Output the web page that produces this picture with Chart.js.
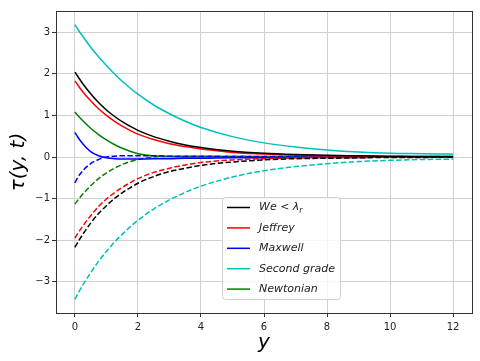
<!DOCTYPE html>
<html>
<head>
<meta charset="utf-8">
<script src="https://cdn.jsdelivr.net/npm/chart.js@4"></script>
<style>
  body { margin: 0; background: #fff; }
  canvas { display: block; }
</style>
</head>
<body>
<canvas id="myChart" width="480" height="361"></canvas>
<script>
const yValues = [0, 0.1, 0.25, 0.5, 0.75, 1, 1.25, 1.5, 1.75, 2, 2.5, 3, 3.5, 4, 5, 6, 7, 8, 9, 10, 11, 12]

// solid curves (upper branch)
const weSolid       = [2.04, 1.93, 1.76, 1.52, 1.31, 1.13, 0.98, 0.85, 0.74, 0.64, 0.49, 0.38, 0.29, 0.23, 0.14, 0.09, 0.06, 0.04, 0.03, 0.02, 0.01, 0.01]
const jeffreySolid  = [1.83, 1.72, 1.57, 1.35, 1.16, 1.00, 0.86, 0.74, 0.64, 0.55, 0.42, 0.32, 0.25, 0.19, 0.11, 0.07, 0.04, 0.03, 0.02, 0.01, 0.01, 0.01]
const maxwellSolid  = [0.59, 0.47, 0.32, 0.13, 0.03, -0.02, -0.04, -0.05, -0.05, -0.05, -0.04, -0.04, -0.03, -0.03, -0.02, -0.02, -0.01, -0.01, -0.01, 0, 0, 0]
const secondSolid   = [3.18, 3.06, 2.90, 2.64, 2.41, 2.20, 2.00, 1.82, 1.66, 1.51, 1.25, 1.04, 0.86, 0.71, 0.49, 0.34, 0.24, 0.17, 0.12, 0.09, 0.08, 0.07]
const newtonSolid   = [1.08, 0.99, 0.87, 0.69, 0.54, 0.41, 0.30, 0.21, 0.14, 0.08, 0.03, 0.01, 0, 0, 0, 0, 0, 0, 0, 0, 0, 0]

// dashed curves (lower branch)
const weDashed      = [-2.17, -2.04, -1.86, -1.59, -1.36, -1.17, -1.00, -0.86, -0.74, -0.63, -0.47, -0.35, -0.27, -0.20, -0.12, -0.07, -0.04, -0.03, -0.02, -0.01, -0.01, 0]
const jeffreyDashed = [-1.95, -1.83, -1.66, -1.41, -1.19, -1.01, -0.86, -0.73, -0.62, -0.52, -0.37, -0.27, -0.19, -0.13, -0.07, -0.04, -0.02, -0.01, -0.01, 0, 0, 0]
const maxwellDashed = [-0.62, -0.48, -0.33, -0.16, -0.06, 0, 0.02, 0.03, 0.03, 0.03, 0.03, 0.02, 0.02, 0.02, 0.01, 0.01, 0.01, 0.01, 0, 0, 0, 0]
const secondDashed  = [-3.42, -3.28, -3.08, -2.78, -2.51, -2.27, -2.05, -1.86, -1.68, -1.52, -1.25, -1.03, -0.85, -0.70, -0.48, -0.33, -0.23, -0.16, -0.11, -0.08, -0.06, -0.05]
const newtonDashed  = [-1.13, -1.03, -0.89, -0.69, -0.52, -0.38, -0.27, -0.18, -0.11, -0.06, 0, 0.02, 0.02, 0.02, 0.02, 0.01, 0.01, 0.01, 0.01, 0, 0, 0]

const xTicks = [0, 2, 4, 6, 8, 10, 12]
const yTicks = [-3, -2, -1, 0, 1, 2, 3]

const legendNames = ['We', 'Jeffrey', 'Maxwell', 'Second grade', 'Newtonian']
const colors = ['#000000', '#ff0000', '#0000ff', '#00bfbf', '#008000']

const solids = [weSolid, jeffreySolid, maxwellSolid, secondSolid, newtonSolid]
const dashes = [weDashed, jeffreyDashed, maxwellDashed, secondDashed, newtonDashed]

const toPoints = vals => vals.map((v, i) => ({x: yValues[i], y: v}))

let datasets = []
for (let i = 0; i < 5; i++) {
  datasets.push({label: legendNames[i], data: toPoints(solids[i]), borderColor: colors[i], borderWidth: 1.5, pointRadius: 0, cubicInterpolationMode: 'monotone'})
  datasets.push({label: legendNames[i] + ' dashed', data: toPoints(dashes[i]), borderColor: colors[i], borderWidth: 1.5, borderDash: [5.5, 2.4], pointRadius: 0, cubicInterpolationMode: 'monotone'})
}

const FONT = '"DejaVu Sans", sans-serif'

// frame, axis titles and the boxed legend, drawn the matplotlib way
const extras = {
  id: 'extras',
  afterDraw(chart) {
    const ctx = chart.ctx
    const a = chart.chartArea
    ctx.save()
    ctx.strokeStyle = '#333'
    ctx.lineWidth = 1
    ctx.strokeRect(Math.round(a.left) + 0.5, Math.round(a.top) + 0.5, Math.round(a.right - a.left), Math.round(a.bottom - a.top))

    // axis titles
    ctx.fillStyle = '#000'
    ctx.font = 'italic 20px ' + FONT
    ctx.textAlign = 'center'
    ctx.textBaseline = 'alphabetic'
    ctx.fillText('y', (a.left + a.right) / 2, 348)
    ctx.save()
    ctx.translate(24, (a.top + a.bottom) / 2)
    ctx.rotate(-Math.PI / 2)
    ctx.fillText('\u03c4(y, t)', 0, 0)
    ctx.restore()

    // legend
    const bx = 222.5, by = 197.5, bw = 118, bh = 102
    ctx.beginPath()
    ctx.roundRect(bx, by, bw, bh, 3)
    ctx.fillStyle = 'rgba(255,255,255,0.8)'
    ctx.fill()
    ctx.strokeStyle = '#d0d0d0'
    ctx.stroke()
    ctx.textAlign = 'left'
    ctx.textBaseline = 'middle'
    for (let i = 0; i < legendNames.length; i++) {
      const ry = 207.5 + i * 20.4
      ctx.beginPath()
      ctx.moveTo(227, ry)
      ctx.lineTo(250, ry)
      ctx.strokeStyle = colors[i]
      ctx.lineWidth = 1.5
      ctx.stroke()
      ctx.fillStyle = '#222'
      ctx.font = 'italic 11px ' + FONT
      if (i == 0) {
        let x = 259
        ctx.fillText('We', x, ry); x += ctx.measureText('We').width
        ctx.font = '11px ' + FONT
        ctx.fillText(' < ', x, ry); x += ctx.measureText(' < ').width
        ctx.font = 'italic 11px ' + FONT
        ctx.fillText('\u03bb', x, ry); x += ctx.measureText('\u03bb').width
        ctx.font = 'italic 8px ' + FONT
        ctx.fillText('r', x, ry + 3)
      } else {
        ctx.fillText(legendNames[i], 259, ry)
      }
    }
    ctx.restore()
  }
}

const ctx = document.getElementById('myChart')
new Chart(ctx, {
  type: 'line',
  data: {datasets: datasets},
  options: {
    responsive: false,
    animation: false,
    devicePixelRatio: 1,
    layout: {padding: {top: 11, right: 8, left: 0, bottom: 0}},
    plugins: {legend: {display: false}, tooltip: {enabled: false}},
    scales: {
      x: {
        type: 'linear',
        min: -0.6, max: 12.6,
        afterFit: s => { s.height = 48 },
        afterBuildTicks: s => { s.ticks = xTicks.map(v => ({value: v})) },
        grid: {color: '#d0d0d0', tickColor: '#333', tickLength: 4, lineWidth: 1},
        border: {display: false},
        ticks: {font: {family: FONT, size: 10}, color: '#222', padding: 4, maxRotation: 0,
                callback: v => String(v).replace('-', '\u2212')}
      },
      y: {
        type: 'linear',
        min: -3.75, max: 3.51,
        afterFit: s => { s.width = 56 },
        afterBuildTicks: s => { s.ticks = yTicks.map(v => ({value: v})) },
        grid: {color: '#d0d0d0', tickColor: '#333', tickLength: 4, lineWidth: 1},
        border: {display: false},
        ticks: {font: {family: FONT, size: 10}, color: '#222', padding: 2,
                callback: v => String(v).replace('-', '\u2212')}
      }
    }
  },
  plugins: [extras]
})
</script>
</body>
</html>
